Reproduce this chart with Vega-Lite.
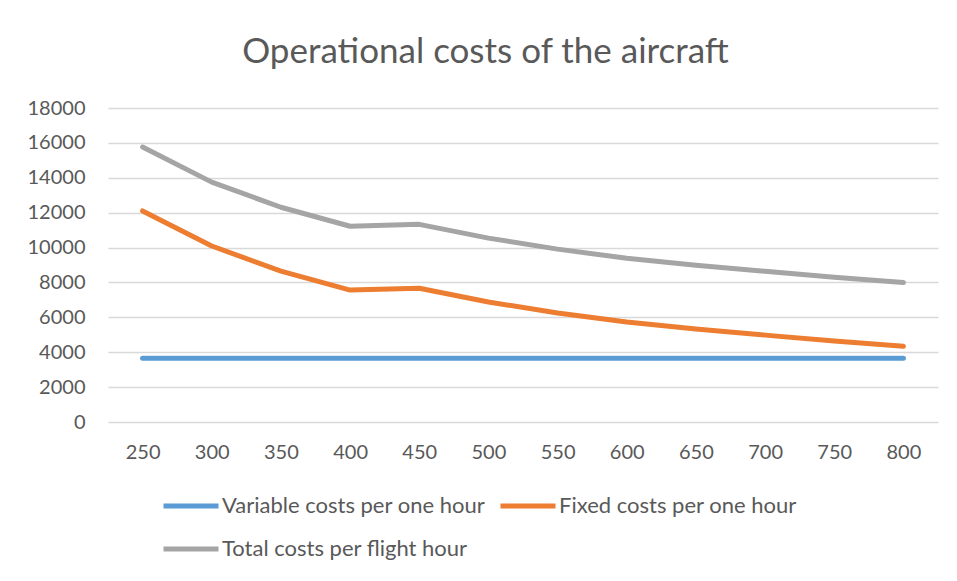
{
  "$schema": "https://vega.github.io/schema/vega-lite/v6.json",
  "autosize": {"type": "none"},
  "width": 830,
  "height": 314,
  "padding": {"left": 108, "top": 108, "right": 19, "bottom": 159},
  "background": "white",
  "config": {
    "view": {"stroke": null},
    "font": "Lato"
  },
  "title": {
    "text": "Operational costs of the aircraft",
    "fontSize": 35,
    "font": "Lato",
    "fontWeight": "normal",
    "color": "#595959",
    "anchor": "middle",
    "frame": "bounds",
    "dx": 3,
    "offset": 28
  },
  "data": {
    "values": [
      {"speed": 250, "series": "Variable costs per one hour", "cost": 3660},
      {"speed": 300, "series": "Variable costs per one hour", "cost": 3660},
      {"speed": 350, "series": "Variable costs per one hour", "cost": 3660},
      {"speed": 400, "series": "Variable costs per one hour", "cost": 3660},
      {"speed": 450, "series": "Variable costs per one hour", "cost": 3660},
      {"speed": 500, "series": "Variable costs per one hour", "cost": 3660},
      {"speed": 550, "series": "Variable costs per one hour", "cost": 3660},
      {"speed": 600, "series": "Variable costs per one hour", "cost": 3660},
      {"speed": 650, "series": "Variable costs per one hour", "cost": 3660},
      {"speed": 700, "series": "Variable costs per one hour", "cost": 3660},
      {"speed": 750, "series": "Variable costs per one hour", "cost": 3660},
      {"speed": 800, "series": "Variable costs per one hour", "cost": 3660},
      {"speed": 250, "series": "Fixed costs per one hour", "cost": 12100},
      {"speed": 300, "series": "Fixed costs per one hour", "cost": 10090},
      {"speed": 350, "series": "Fixed costs per one hour", "cost": 8650},
      {"speed": 400, "series": "Fixed costs per one hour", "cost": 7560},
      {"speed": 450, "series": "Fixed costs per one hour", "cost": 7670},
      {"speed": 500, "series": "Fixed costs per one hour", "cost": 6880},
      {"speed": 550, "series": "Fixed costs per one hour", "cost": 6250},
      {"speed": 600, "series": "Fixed costs per one hour", "cost": 5730},
      {"speed": 650, "series": "Fixed costs per one hour", "cost": 5330},
      {"speed": 700, "series": "Fixed costs per one hour", "cost": 4980},
      {"speed": 750, "series": "Fixed costs per one hour", "cost": 4640},
      {"speed": 800, "series": "Fixed costs per one hour", "cost": 4340},
      {"speed": 250, "series": "Total costs per flight hour", "cost": 15760},
      {"speed": 300, "series": "Total costs per flight hour", "cost": 13750},
      {"speed": 350, "series": "Total costs per flight hour", "cost": 12310},
      {"speed": 400, "series": "Total costs per flight hour", "cost": 11220},
      {"speed": 450, "series": "Total costs per flight hour", "cost": 11330},
      {"speed": 500, "series": "Total costs per flight hour", "cost": 10540},
      {"speed": 550, "series": "Total costs per flight hour", "cost": 9910},
      {"speed": 600, "series": "Total costs per flight hour", "cost": 9390},
      {"speed": 650, "series": "Total costs per flight hour", "cost": 8990},
      {"speed": 700, "series": "Total costs per flight hour", "cost": 8640},
      {"speed": 750, "series": "Total costs per flight hour", "cost": 8300},
      {"speed": 800, "series": "Total costs per flight hour", "cost": 8000}
    ]
  },
  "mark": {"type": "line", "strokeWidth": 5, "strokeCap": "round", "strokeJoin": "round"},
  "encoding": {
    "x": {
      "field": "speed",
      "type": "ordinal",
      "sort": null,
      "scale": {"type": "point", "padding": 0.5},
      "axis": {
        "title": null,
        "labelAngle": 0,
        "labelFontSize": 20,
        "labelColor": "#595959",
        "labelFont": "Lato",
        "ticks": false,
        "domain": false,
        "grid": false,
        "labelPadding": 20
      }
    },
    "y": {
      "field": "cost",
      "type": "quantitative",
      "scale": {"domain": [0, 18000], "nice": false},
      "axis": {
        "title": null,
        "values": [0, 2000, 4000, 6000, 8000, 10000, 12000, 14000, 16000, 18000],
        "format": "d",
        "labelFontSize": 20,
        "labelColor": "#595959",
        "labelFont": "Lato",
        "ticks": false,
        "domain": false,
        "gridColor": "#D9D9D9",
        "gridWidth": 1.5,
        "labelPadding": 23
      }
    },
    "color": {
      "field": "series",
      "type": "nominal",
      "sort": ["Variable costs per one hour", "Fixed costs per one hour", "Total costs per flight hour"],
      "scale": {
        "domain": ["Variable costs per one hour", "Fixed costs per one hour", "Total costs per flight hour"],
        "range": ["#5B9BD5", "#ED7D31", "#A5A5A5"]
      },
      "legend": {
        "title": null,
        "orient": "none",
        "legendX": 53,
        "legendY": 368,
        "columns": 2,
        "direction": "horizontal",
        "symbolType": "stroke",
        "symbolSize": 3025,
        "symbolStrokeWidth": 5,
        "labelFontSize": 22,
        "labelFont": "Lato",
        "labelColor": "#595959",
        "labelOffset": 1,
        "labelLimit": 0,
        "columnPadding": 4,
        "rowPadding": 2
      }
    }
  }
}
